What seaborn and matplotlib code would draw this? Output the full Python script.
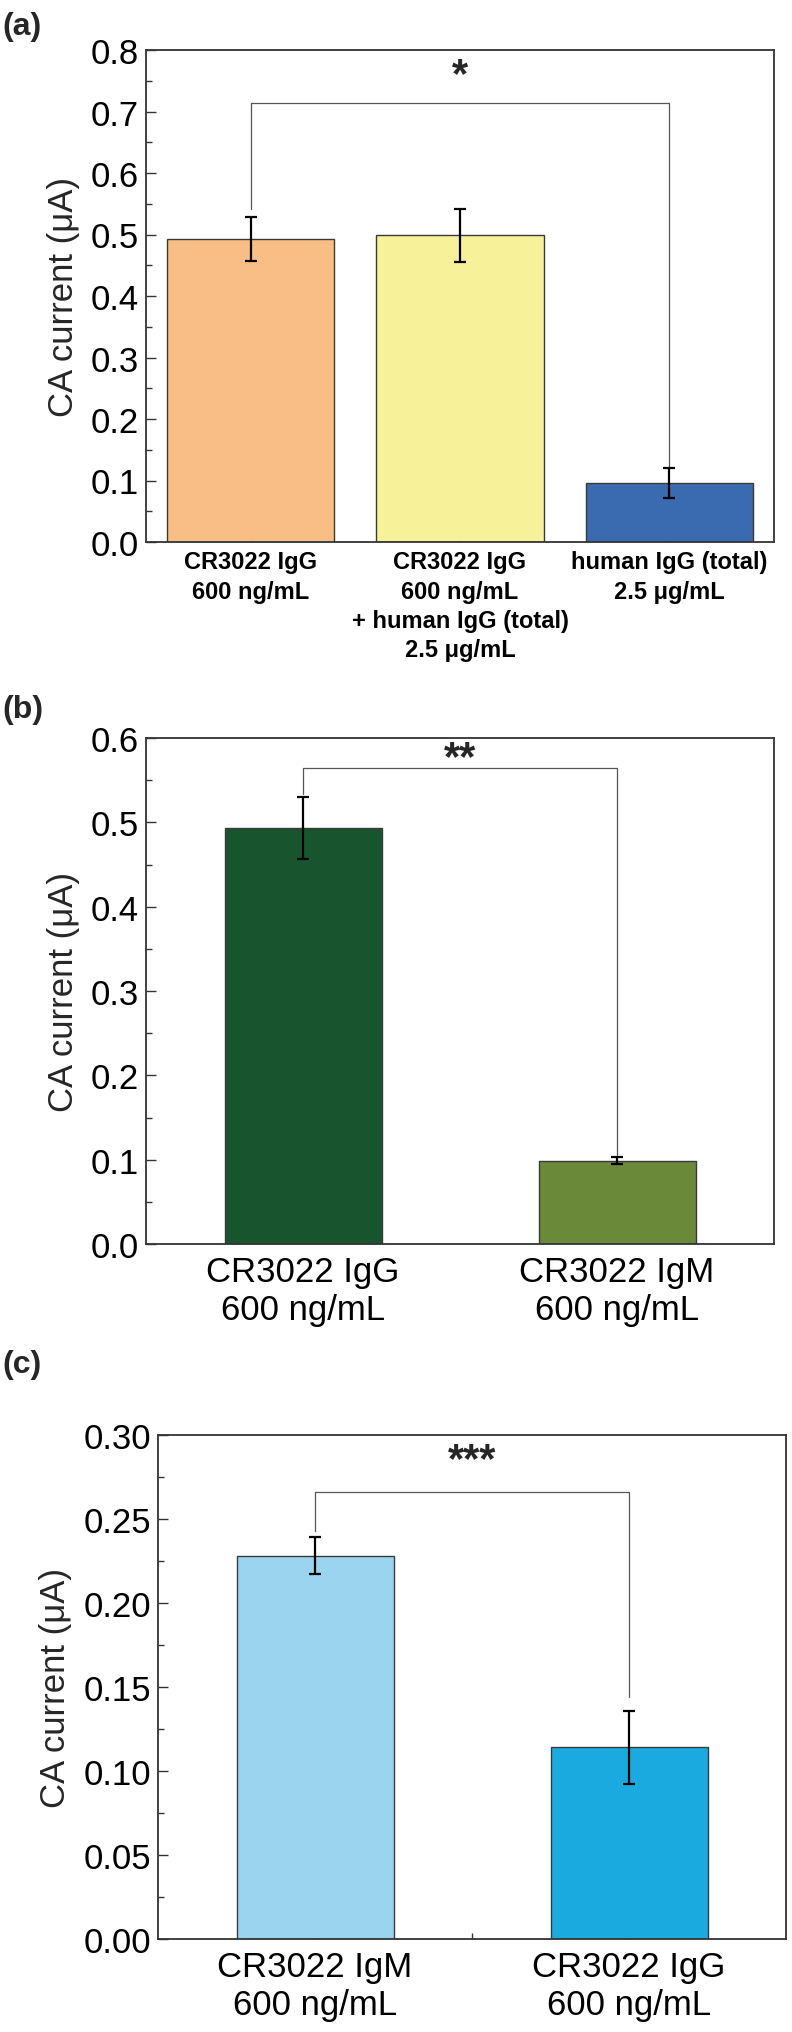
import numpy as np
import pandas as pd
import matplotlib
matplotlib.use('Agg')
import matplotlib.pyplot as plt
from matplotlib.ticker import MultipleLocator, FormatStrFormatter
import seaborn as sns

# ---- panel (a) ----
a_labels = ['CR3022 IgG\n600 ng/mL',
            'CR3022 IgG\n600 ng/mL\n+ human IgG (total)\n2.5 μg/mL',
            'human IgG (total)\n2.5 μg/mL']
a_means = [0.493, 0.499, 0.096]
a_errs = [0.036, 0.043, 0.024]
a_colors = ['#F9BE85', '#F7F199', '#3A6AB0']
a_sig = (0, 2, 0.714, 0.542, 0.121, '*')

# ---- panel (b) ----
b_labels = ['CR3022 IgG\n600 ng/mL', 'CR3022 IgM\n600 ng/mL']
b_means = [0.493, 0.099]
b_errs = [0.037, 0.004]
b_colors = ['#18552E', '#6A8A3A']
b_sig = (0, 1, 0.564, 0.534, 0.105, '**')

# ---- panel (c) ----
c_labels = ['CR3022 IgM\n600 ng/mL', 'CR3022 IgG\n600 ng/mL']
c_means = [0.228, 0.114]
c_errs = [0.011, 0.0215]
c_colors = ['#9AD4EF', '#1BAADF']
c_sig = (0, 1, 0.266, 0.243, 0.144, '***')

sns.set_style('ticks')
plt.rcParams['font.family'] = ['Liberation Sans', 'DejaVu Sans']
plt.rcParams['axes.edgecolor'] = '#333333'

W, H = 792, 2033
fig = plt.figure(figsize=(W / 100, H / 100), dpi=100)


def box(left, top, right, bottom):
    # pixel box -> figure fraction
    return [left / W, 1 - bottom / H, (right - left) / W, (bottom - top) / H]


def draw_panel(ax, labels, means, errs, colors, width, ymax, major, fmt,
               sig, star_off, bold=False, xfs=25, minor_x=False):
    df = pd.DataFrame({'group': labels, 'value': means})
    sns.barplot(data=df, x='group', y='value', hue='group', palette=colors,
                width=width, saturation=1, edgecolor='#3a3a3a', linewidth=1,
                legend=False, ax=ax)
    x = np.arange(len(labels))
    ax.errorbar(x, means, yerr=errs, fmt='none', ecolor='black',
                elinewidth=1.6, capsize=4, capthick=1.6, zorder=5)

    ax.set_xlim(-0.5, len(labels) - 0.5)
    ax.set_ylim(0, ymax)
    ax.yaxis.set_major_locator(MultipleLocator(major))
    ax.yaxis.set_minor_locator(MultipleLocator(major / 2))
    ax.yaxis.set_major_formatter(FormatStrFormatter(fmt))
    if minor_x:
        ax.set_xticks(np.arange(len(labels) - 1) + 0.5, minor=True)

    ax.tick_params(axis='y', which='major', direction='in', length=7, width=1,
                   labelsize=25, pad=5, colors='#333333', labelcolor='black')
    ax.tick_params(axis='y', which='minor', direction='in', length=4, width=1,
                   colors='#333333')
    ax.tick_params(axis='x', which='major', direction='in', length=7, width=1,
                   labelsize=xfs, pad=8 if not bold else 6, colors='#333333',
                   labelcolor='black')
    ax.tick_params(axis='x', which='minor', direction='in', length=4, width=1,
                   colors='#333333')
    for lab in ax.get_xticklabels():
        if bold:
            lab.set_fontweight('bold')
            lab.set_linespacing(1.35)
        else:
            lab.set_linespacing(1.2)

    for s in ax.spines.values():
        s.set_visible(True)
        s.set_linewidth(1.3)
        s.set_color('#333333')

    ax.set_xlabel('')
    ax.set_ylabel('CA current (μA)', fontsize=25, labelpad=8)

    # significance bracket
    i, j, top, yl, yr, stars = sig
    ax.plot([i, i, j, j], [yl, top, top, yr], color='#555555', lw=0.9,
            zorder=4)
    ax.text((i + j) / 2, top + star_off, stars, ha='center', va='center',
            fontsize=30, fontweight='bold')


ax_a = fig.add_axes(box(146, 51, 774, 543))
draw_panel(ax_a, a_labels, a_means, a_errs, a_colors, 0.8, 0.8, 0.1, '%.1f',
           a_sig, 0.045, bold=True, xfs=17)

ax_b = fig.add_axes(box(146, 739, 774, 1245))
draw_panel(ax_b, b_labels, b_means, b_errs, b_colors, 0.5, 0.6, 0.1, '%.1f',
           b_sig, 0.012)

ax_c = fig.add_axes(box(158, 1436, 786, 1940))
draw_panel(ax_c, c_labels, c_means, c_errs, c_colors, 0.5, 0.30, 0.05, '%.2f',
           c_sig, 0.019, minor_x=True)

for tag, ypx in [('(a)', 27), ('(b)', 710), ('(c)', 1365)]:
    fig.text(0.003, 1 - ypx / H, tag, fontsize=23, fontweight='bold',
             va='center', ha='left')

fig.savefig('out.png', dpi=100, facecolor='white')
